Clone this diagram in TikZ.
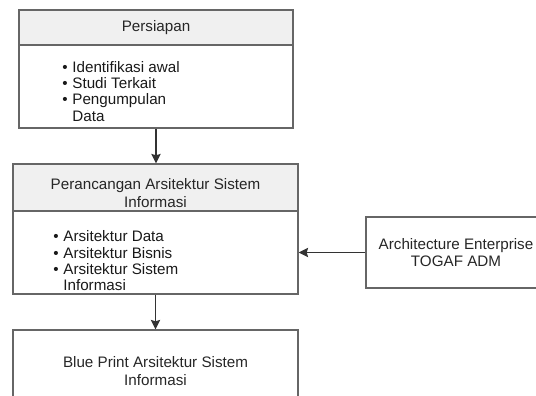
\documentclass[tikz,border=0pt]{standalone}
\usepackage{fontspec}
\setmainfont{Liberation Sans}
\usetikzlibrary{arrows.meta,positioning}

\begin{document}
\begin{tikzpicture}[x=0.75pt,y=0.75pt,>={Stealth[length=7pt,width=7pt,inset=1pt]},
	semithick,font=\fontsize{11.4pt}{13pt}\selectfont]
	\tikzstyle{box}=[draw=black!60,line width=1.1pt,rectangle,inner sep=2pt,align=center,text=black!85]
	\tikzstyle{hdr}=[box,fill=black!6]
	\tikzstyle{items}=[align=left,inner sep=0pt,anchor=west,text=black!90,
		font=\fontsize{11.4pt}{12.25pt}\selectfont]
	\tikzstyle{flow}=[->,draw=black!80,line width=1pt]

	\useasboundingbox (0,0) rectangle (536,-396);
	\clip (0,0) rectangle (536,-396);

	% persiapan
	\node[hdr,minimum width=205.5pt,minimum height=26.25pt] (prep) at (156,-27.5) {Persiapan};
	\node[box,minimum width=205.5pt,minimum height=62.25pt] (prepbody) at (156,-86.5) {};
	\node[items] (preplist) at (62,-93.5) {%
		\begin{tabular}{@{}l@{\hspace{3.5pt}}l@{}}
		\textbullet & Identifikasi awal\\
		\textbullet & Studi Terkait\\
		\textbullet & Pengumpulan\\
		 & Data
		\end{tabular}};

	% perancangan
	\node[hdr,minimum width=213.75pt,minimum height=35.25pt] (design) at (155.5,-187.5) {};
	\node[align=center,text=black!85,font=\fontsize{11.4pt}{13.5pt}\selectfont] (designtitle) at (155.5,-193.5) {Perancangan Arsitektur Sistem\\Informasi};
	\node[box,minimum width=213.75pt,minimum height=62.25pt] (designbody) at (155.5,-252.5) {};
	\node[items] (designlist) at (53,-263) {%
		\begin{tabular}{@{}l@{\hspace{3.5pt}}l@{}}
		\textbullet & Arsitektur Data\\
		\textbullet & Arsitektur Bisnis\\
		\textbullet & Arsitektur Sistem\\
		 & Informasi
		\end{tabular}};

	\node[box,minimum width=135pt,minimum height=53.25pt] (togaf) at (456,-252.5) {Architecture Enterprise\\TOGAF ADM};

	\node[box,minimum width=213.75pt,minimum height=61.5pt] (blueprint) at (155.5,-371) {Blue Print Arsitektur Sistem\\Informasi};

	\draw[flow] (prepbody.south) -- (prepbody.south |- design.north);
	\draw[flow] (togaf.west) -- (togaf.west -| designbody.east);
	\draw[flow] (designbody.south) -- (designbody.south |- blueprint.north);
\end{tikzpicture}
\end{document}
